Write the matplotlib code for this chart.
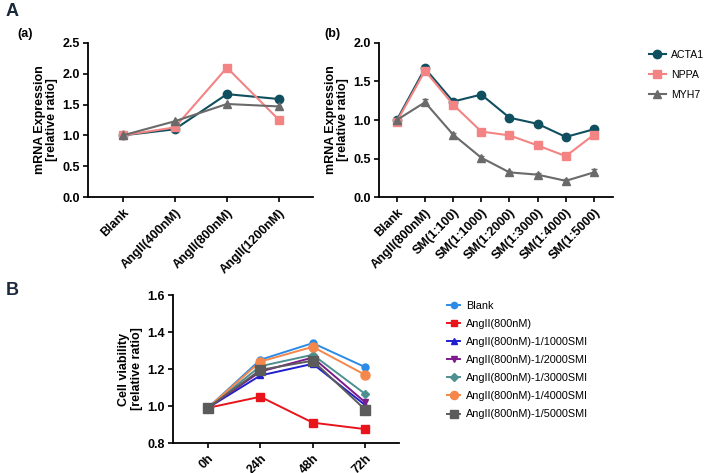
import matplotlib
matplotlib.use("Agg")
import matplotlib.pyplot as plt
from matplotlib.lines import Line2D

plt.rcParams['font.family'] = ['Liberation Sans', 'DejaVu Sans']

# ---------------- data ----------------
cats_a = ["Blank", "AngII(400nM)", "AngII(800nM)", "AngII(1200nM)"]
acta1_a = [1.00, 1.10, 1.67, 1.59]
nppa_a = [1.00, 1.13, 2.10, 1.25]
myh7_a = [1.00, 1.23, 1.51, 1.47]

cats_b = ["Blank", "AngII(800nM)", "SM(1:100)", "SM(1:1000)", "SM(1:2000)",
          "SM(1:3000)", "SM(1:4000)", "SM(1:5000)"]
acta1_b = [1.00, 1.67, 1.24, 1.33, 1.03, 0.95, 0.78, 0.88]
nppa_b = [0.98, 1.64, 1.20, 0.85, 0.80, 0.67, 0.53, 0.81]
myh7_b = [1.00, 1.23, 0.81, 0.51, 0.32, 0.29, 0.21, 0.32]
myh7_b_err = [0.03, 0.04, 0.02, 0.02, 0.02, 0.02, 0.02, 0.04]
acta1_b_err = [0.03, 0.02, 0.02, 0.02, 0.02, 0.02, 0.02, 0.02]
nppa_b_err = [0.02, 0.02, 0.02, 0.02, 0.02, 0.02, 0.02, 0.02]

times = ["0h", "24h", "48h", "72h"]
cv_names = ["Blank", "AngII(800nM)", "AngII(800nM)-1/1000SMI", "AngII(800nM)-1/2000SMI",
            "AngII(800nM)-1/3000SMI", "AngII(800nM)-1/4000SMI", "AngII(800nM)-1/5000SMI"]
cv_blank = [0.99, 1.25, 1.34, 1.21]
cv_ang = [0.99, 1.05, 0.91, 0.875]
cv_1000 = [0.99, 1.165, 1.228, 1.005]
cv_2000 = [0.99, 1.186, 1.262, 1.02]
cv_3000 = [0.99, 1.215, 1.277, 1.065]
cv_4000 = [0.99, 1.24, 1.32, 1.168]
cv_5000 = [0.99, 1.195, 1.245, 0.98]

# ---------------- styles ----------------
c_acta = "#0f4f5f"
c_nppa = "#f48484"
c_myh = "#6a6a6a"

fig = plt.figure(figsize=(7.08, 4.73), dpi=100)

def style_ax(ax):
    for s in ["top", "right"]:
        ax.spines[s].set_visible(False)
    for s in ["left", "bottom"]:
        ax.spines[s].set_linewidth(1.3)
    ax.tick_params(axis="both", width=1.2, length=3.5, labelsize=9)
    ax.tick_params(axis="y", pad=2)
    for lab in ax.get_yticklabels():
        lab.set_fontweight("bold")

def set_xcats(ax, cats, size=8):
    ax.set_xticks(range(len(cats)))
    ax.set_xticklabels(cats, rotation=45, ha="right", rotation_mode="anchor",
                       fontweight="bold", fontsize=size)

ylab_kw = dict(fontweight="bold", fontsize=9, labelpad=3, linespacing=1.1)

# Panel (a)
axa = fig.add_axes([0.124, 0.5835, 0.318, 0.3256])
x = range(len(cats_a))
axa.plot(x, acta1_a, "-o", color=c_acta, ms=6, lw=1.5, zorder=3)
axa.plot(x, nppa_a, "-s", color=c_nppa, ms=6, lw=1.5, zorder=3)
axa.plot(x, myh7_a, "-^", color=c_myh, ms=6, lw=1.5, zorder=3)
axa.set_xlim(-0.67, 3.65)
axa.set_ylim(0, 2.5)
axa.set_yticks([0.0, 0.5, 1.0, 1.5, 2.0, 2.5])
axa.set_yticklabels(["0.0", "0.5", "1.0", "1.5", "2.0", "2.5"])
set_xcats(axa, cats_a)
axa.set_ylabel("mRNA Expression\n[relative ratio]", **ylab_kw)
style_ax(axa)

# Panel (b)
axb = fig.add_axes([0.535, 0.5835, 0.331, 0.3256])
x = range(len(cats_b))
axb.errorbar(x, acta1_b, yerr=acta1_b_err, fmt="-o", color=c_acta, ms=6, lw=1.5, capsize=2, zorder=3)
axb.errorbar(x, nppa_b, yerr=nppa_b_err, fmt="-s", color=c_nppa, ms=6, lw=1.5, capsize=2, zorder=3)
axb.errorbar(x, myh7_b, yerr=myh7_b_err, fmt="-^", color=c_myh, ms=6, lw=1.5, capsize=2, zorder=3)
axb.set_xlim(-0.64, 7.68)
axb.set_ylim(0, 2.0)
axb.set_yticks([0.0, 0.5, 1.0, 1.5, 2.0])
axb.set_yticklabels(["0.0", "0.5", "1.0", "1.5", "2.0"])
set_xcats(axb, cats_b)
axb.set_ylabel("mRNA Expression\n[relative ratio]", **ylab_kw)
style_ax(axb)

handles_a = [Line2D([], [], color=c_acta, marker="o", ms=6, lw=1.5),
             Line2D([], [], color=c_nppa, marker="s", ms=6, lw=1.5),
             Line2D([], [], color=c_myh, marker="^", ms=6, lw=1.5)]
fig.legend(handles_a, ["ACTA1", "NPPA", "MYH7"], loc="upper left",
           bbox_to_anchor=(0.903, 0.915), frameon=False, fontsize=7.6,
           handlelength=1.6, labelspacing=0.95, handletextpad=0.5)

# Panel B
axc = fig.add_axes([0.244, 0.0634, 0.320, 0.3129])
cv_series = [cv_blank, cv_ang, cv_1000, cv_2000, cv_3000, cv_4000, cv_5000]
cv_colors = ["#2b8be6", "#e8141c", "#1f1fd0", "#7d1a8c", "#4f8f8f", "#f5874a", "#5b5b5b"]
cv_markers = ["o", "s", "^", "v", "D", "o", "s"]
cv_ms = [5, 5.5, 5, 5, 4, 6.5, 6.5]
x = range(len(times))
hs = []
for vals, col, mk, ms, nm in zip(cv_series, cv_colors, cv_markers, cv_ms, cv_names):
    h, = axc.plot(x, vals, "-", marker=mk, color=col, ms=ms, lw=1.4, label=nm, zorder=3)
    hs.append(h)
axc.set_xlim(-0.67, 3.65)
axc.set_ylim(0.8, 1.6)
axc.set_yticks([0.8, 1.0, 1.2, 1.4, 1.6])
axc.set_yticklabels(["0.8", "1.0", "1.2", "1.4", "1.6"])
set_xcats(axc, times)
axc.set_ylabel("Cell viability\n[relative ratio]", **ylab_kw)
style_ax(axc)

fig.legend(hs, cv_names, loc="upper left", bbox_to_anchor=(0.618, 0.385),
           frameon=False, fontsize=7.8, handlelength=1.2, labelspacing=0.75,
           handletextpad=0.5, markerscale=0.9)

# panel letters
fig.text(0.008, 0.975, "A", fontsize=13, fontweight="bold", color="#1a2a3a", va="center")
fig.text(0.008, 0.385, "B", fontsize=13, fontweight="bold", color="#1a2a3a", va="center")
fig.text(0.024, 0.928, "(a)", fontsize=9, fontweight="bold", va="center")
fig.text(0.458, 0.928, "(b)", fontsize=9, fontweight="bold", va="center")

fig.savefig("out.png", dpi=100)
